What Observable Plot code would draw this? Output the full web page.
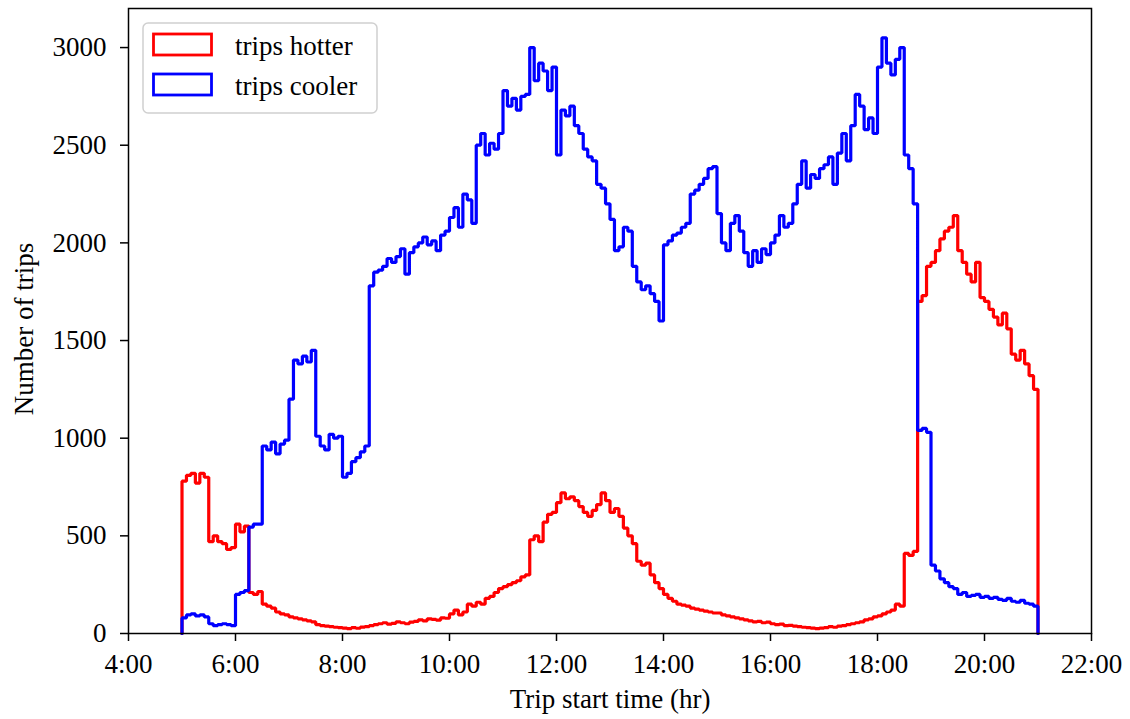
<!DOCTYPE html>
<html>
<head>
<meta charset="utf-8">
<script src="https://cdn.jsdelivr.net/npm/d3@7"></script>
<script src="https://cdn.jsdelivr.net/npm/@observablehq/plot@0.6"></script>
<style>
  html, body { margin: 0; padding: 0; background: white; }
  #chart { width: 1130px; height: 719px; }
  #chart svg text { font-size: 27px !important; font-family: 'Liberation Serif', 'Times New Roman', serif !important; }
</style>
</head>
<body>
<div id="chart"></div>
<script>
// 5-minute bins from 5:00 to 21:00, one row per hour
const binStart = 5;        // hour of first bin
const binWidth = 5 / 60;   // hours
const seriesNames = ["trips hotter", "trips cooler"];
const seriesColors = ["#ff0000", "#0000ff"];

const tripsHotter = [
  780, 810, 820, 770, 820, 800, 470, 500, 470, 460, 430, 440,      // 5
  560, 520, 550, 210, 200, 215, 150, 140, 130, 110, 100, 95,       // 6
  85, 80, 75, 70, 65, 60, 45, 40, 38, 35, 32, 30,                  // 7
  28, 25, 30, 27, 33, 35, 40, 45, 50, 55, 48, 52,                  // 8
  60, 55, 50, 58, 62, 70, 65, 75, 72, 68, 80, 78,                  // 9
  100, 120, 95, 110, 150, 140, 160, 150, 180, 190, 210, 230,       // 10
  240, 250, 260, 270, 290, 300, 480, 500, 470, 570, 610, 620,      // 11
  670, 720, 690, 700, 680, 650, 620, 600, 630, 660, 720, 680,      // 12
  620, 640, 600, 540, 500, 460, 370, 350, 360, 300, 260, 230,      // 13
  200, 180, 165, 150, 145, 140, 130, 125, 120, 115, 110, 105,      // 14
  105, 95, 90, 85, 80, 75, 70, 65, 60, 62, 55, 58,                 // 15
  50, 45, 48, 40, 42, 38, 35, 32, 30, 28, 25, 28,                  // 16
  30, 35, 32, 38, 40, 45, 50, 55, 60, 70, 75, 85,                  // 17
  90, 100, 110, 120, 150, 140, 410, 400, 420, 1700, 1730, 1880,    // 18
  1900, 1960, 2020, 2060, 2080, 2140, 1960, 1900, 1840, 1800, 1900, 1720, // 19
  1700, 1660, 1620, 1580, 1640, 1560, 1430, 1400, 1450, 1380, 1320, 1250  // 20
];

const tripsCooler = [
  80, 95, 100, 90, 95, 85, 50, 40, 45, 50, 45, 40,                 // 5
  200, 210, 220, 545, 560, 560, 960, 940, 980, 920, 970, 990,      // 6
  1200, 1400, 1380, 1420, 1390, 1450, 1010, 960, 940, 1020, 1000, 1010, // 7
  800, 820, 880, 900, 930, 960, 1780, 1850, 1860, 1880, 1920, 1900,     // 8
  1930, 1970, 1840, 1950, 1980, 2000, 2030, 1990, 2010, 1960, 2040, 2060, // 9
  2130, 2180, 2080, 2250, 2220, 2100, 2500, 2560, 2450, 2510, 2480, 2560, // 10
  2780, 2700, 2740, 2680, 2750, 2760, 3000, 2830, 2920, 2880, 2780, 2900, // 11
  2450, 2680, 2650, 2700, 2600, 2560, 2480, 2440, 2420, 2300, 2280, 2200, // 12
  2120, 1960, 1980, 2080, 2060, 1880, 1800, 1760, 1780, 1740, 1700, 1600, // 13
  1990, 2010, 2040, 2050, 2080, 2100, 2250, 2270, 2300, 2330, 2380, 2390, // 14
  2150, 2000, 1960, 2100, 2140, 2060, 1950, 1880, 1960, 1900, 1970, 1940, // 15
  2000, 2040, 2140, 2080, 2100, 2200, 2300, 2420, 2280, 2350, 2330, 2380, // 16
  2400, 2440, 2300, 2460, 2560, 2420, 2600, 2760, 2700, 2580, 2640, 2560, // 17
  2900, 3050, 2920, 2860, 2940, 3000, 2450, 2380, 2200, 1040, 1050, 1030, // 18
  350, 320, 280, 260, 240, 230, 200, 210, 190, 195, 200, 185,      // 19
  190, 180, 185, 175, 170, 180, 165, 160, 170, 155, 150, 140       // 20
];

const xTicks = [4, 6, 8, 10, 12, 14, 16, 18, 20, 22];
const yTicks = [0, 500, 1000, 1500, 2000, 2500, 3000];
const xLabel = "Trip start time (hr)";
const yLabel = "Number of trips";

// step-histogram outline: starts and ends on the baseline
function outline(values, name) {
  const pts = [{t: binStart, v: 0, name}];
  values.forEach((v, i) => pts.push({t: binStart + i * binWidth, v, name}));
  const end = binStart + values.length * binWidth;
  pts.push({t: end, v: values[values.length - 1], name});
  pts.push({t: end, v: 0, name});
  return pts;
}
const hotPts = outline(tripsHotter, seriesNames[0]);
const coolPts = outline(tripsCooler, seriesNames[1]);

const font = "'Liberation Serif', 'Times New Roman', serif";

const plot = Plot.plot({
  width: 1130,
  height: 719,
  marginLeft: 128,
  marginRight: 39,
  marginTop: 8,
  marginBottom: 86,
  style: {fontFamily: font, fontSize: "27px", color: "black", background: "white", overflow: "visible"},
  x: {domain: [4, 22]},
  y: {domain: [0, 3200]},
  marks: [
    Plot.line(hotPts, {x: "t", y: "v", curve: "step-after", stroke: seriesColors[0], strokeWidth: 3.2, strokeLinejoin: "miter"}),
    Plot.line(coolPts, {x: "t", y: "v", curve: "step-after", stroke: seriesColors[1], strokeWidth: 3.2, strokeLinejoin: "miter"}),
    Plot.frame({stroke: "black", strokeWidth: 1.5}),
    Plot.axisX({ticks: xTicks, tickFormat: d => `${d}:00`, tickSize: 8, tickPadding: 12, strokeWidth: 1.5, label: null}),
    Plot.axisY({ticks: yTicks, tickFormat: d => `${d}`, tickSize: 8, tickPadding: 14, strokeWidth: 1.5, label: null}),
    Plot.text([xLabel], {frameAnchor: "bottom", lineAnchor: "middle", textAnchor: "middle", dy: 66, text: d => d, fill: "black"}),
    Plot.text([yLabel], {frameAnchor: "left", lineAnchor: "middle", textAnchor: "middle", rotate: -90, dx: -104, dy: 8, text: d => d, fill: "black"})
  ]
});

document.getElementById("chart").appendChild(plot);

// legend inside the upper-left corner of the axes
const svg = d3.select(plot);
const lg = svg.append("g").attr("font-family", font).attr("font-size", 27).attr("text-anchor", "start");
lg.append("rect").attr("x", 143).attr("y", 23).attr("width", 234).attr("height", 90)
  .attr("rx", 5).attr("fill", "white").attr("fill-opacity", 0.8)
  .attr("stroke", "#d0d0d0").attr("stroke-width", 1.5);
seriesNames.forEach((name, i) => {
  const y0 = 34 + i * 40;
  lg.append("rect").attr("x", 153.5).attr("y", y0).attr("width", 58).attr("height", 21)
    .attr("fill", "none").attr("stroke", seriesColors[i]).attr("stroke-width", 2.8);
  lg.append("text").attr("x", 235).attr("y", y0 + 21).attr("fill", "black")
    .attr("text-anchor", "start").text(name);
});
</script>
</body>
</html>
